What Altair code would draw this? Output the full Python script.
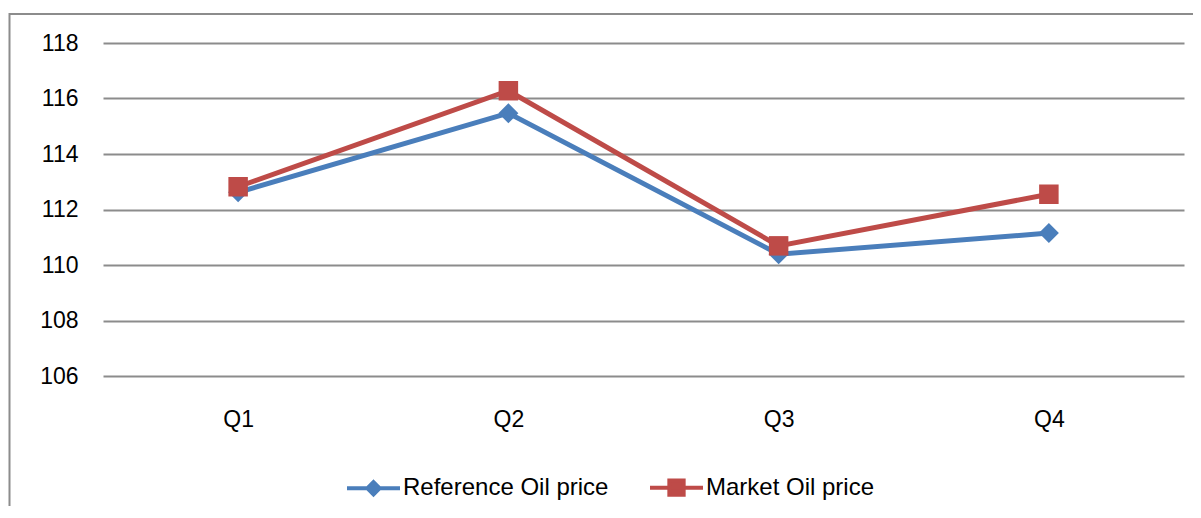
import altair as alt
import pandas as pd

quarters = ["Q1", "Q2", "Q3", "Q4"]
reference_price = [112.62, 115.47, 110.39, 111.15]
market_price = [112.82, 116.28, 110.69, 112.55]
series_names = ["Reference Oil price", "Market Oil price"]
series_colors = ["#4A7EBB", "#BE4B48"]
series_markers = ["diamond", "square"]
marker_sizes = [400, 380]
y_ticks = [106, 108, 110, 112, 114, 116, 118]

FONT = "Liberation Sans"

df = pd.DataFrame({
    "quarter": quarters * 2,
    "price": reference_price + market_price,
    "series": [series_names[0]] * 4 + [series_names[1]] * 4,
})

x_enc = alt.X("quarter:N", sort=quarters,
              scale=alt.Scale(type="point", padding=0.5),
              axis=alt.Axis(title=None, labelAngle=0, domain=False, ticks=False,
                            tickSize=0, grid=False, labelPadding=32,
                            labelFontSize=23, labelFont=FONT, labelColor="#000000"))
y_enc = alt.Y("price:Q",
              scale=alt.Scale(domain=[106, 118], nice=False, zero=False),
              axis=alt.Axis(title=None, values=y_ticks, domain=False, ticks=False,
                            tickSize=0, grid=True, gridColor="#8C8C8C", gridWidth=2,
                            labelPadding=25, labelFontSize=23, labelFont=FONT,
                            labelColor="#000000"))

base = alt.Chart(df)

line_layers = []
point_layers = []
for name, col, shp, sz in zip(series_names, series_colors, series_markers, marker_sizes):
    sub = base.transform_filter(alt.datum.series == name)
    line_layers.append(sub.mark_line(strokeWidth=5, color=col).encode(x=x_enc, y=y_enc))
    point_layers.append(sub.mark_point(shape=shp, filled=True, size=sz, opacity=1,
                                       strokeWidth=0, color=col).encode(x=x_enc, y=y_enc))

# legend layer: zero-size marks (hidden under the markers); the legend symbols use
# the legend's own symbolSize with a line-plus-marker path
legend_paths = [
    "M-1,0H1M0,-0.23L0.23,0L0,0.23L-0.23,0Z",
    "M-1,0H1M-0.27,-0.27H0.27V0.27H-0.27Z",
]
leg = alt.Legend(title=None, orient="none", legendX=242, legendY=416,
                 direction="horizontal", symbolSize=2809, symbolStrokeWidth=4,
                 labelFont=FONT, labelFontSize=24, labelColor="#000000",
                 labelLimit=500, labelOffset=1, columnPadding=33, padding=0)
legend_layer = base.mark_point(
    filled=True, opacity=1, strokeWidth=4, size=0
).encode(
    x=x_enc, y=y_enc,
    fill=alt.Fill("series:N", scale=alt.Scale(domain=series_names, range=series_colors),
                  legend=leg),
    stroke=alt.Stroke("series:N", scale=alt.Scale(domain=series_names, range=series_colors),
                      legend=leg),
    shape=alt.Shape("series:N", scale=alt.Scale(domain=series_names, range=legend_paths),
                    legend=leg),
)

border = alt.Chart(pd.DataFrame({"b": [0]})).mark_rect(
    fill="transparent", stroke="#8C8C8C", strokeWidth=2
).encode(x=alt.value(-93.5), x2=alt.value(1097), y=alt.value(-29), y2=alt.value(600))

chart = alt.layer(border, *line_layers, legend_layer, *point_layers).properties(
    width=1081, height=333,
    autosize=alt.AutoSizeParams(type="none"),
    padding={"left": 95, "top": 35, "right": 9, "bottom": 130},
    background="white",
).configure_view(stroke=None)

chart.save("out.html", embed_options={"renderer": "svg", "actions": False})
